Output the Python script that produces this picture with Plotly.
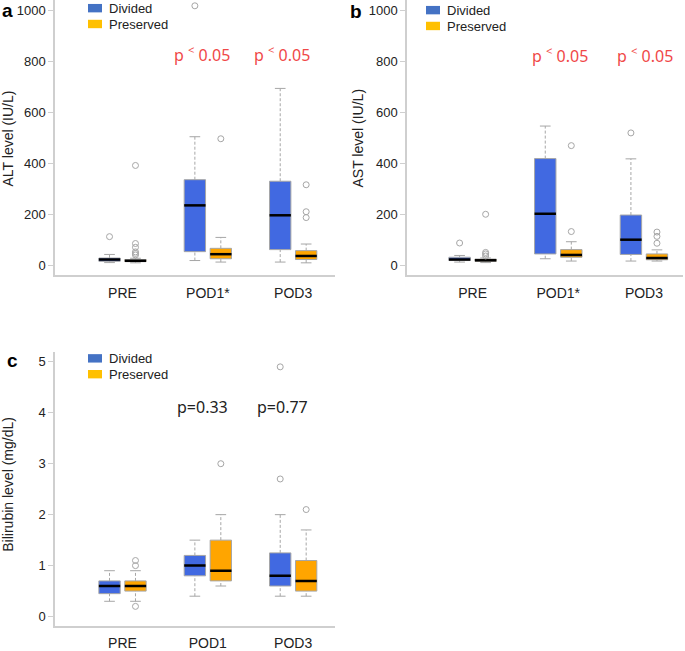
import plotly.graph_objects as go

W, H = 685, 651

groups_ab = ["PRE", "POD1*", "POD3"]
groups_c = ["PRE", "POD1", "POD3"]
series_names = ["Divided", "Preserved"]

# ---- ALT (IU/L): per group [PRE, POD1, POD3]
alt_div_low = [10, 18, 12]
alt_div_q1 = [15, 53, 61]
alt_div_med = [22, 235, 196]
alt_div_q3 = [28, 336, 330]
alt_div_high = [42, 505, 695]
alt_div_out = [[112], [1020], []]
alt_pre_low = [9, 12, 9]
alt_pre_q1 = [14, 25, 22]
alt_pre_med = [17, 43, 36]
alt_pre_q3 = [22, 66, 57]
alt_pre_high = [27, 109, 83]
alt_pre_out = [[392, 85, 70, 52, 46, 40], [497], [316, 210, 187]]

# ---- AST (IU/L)
ast_div_low = [12, 25, 16]
ast_div_q1 = [18, 44, 42]
ast_div_med = [22, 202, 100]
ast_div_q3 = [31, 419, 197]
ast_div_high = [38, 547, 418]
ast_div_out = [[87], [], [520]]
ast_pre_low = [10, 16, 16]
ast_pre_q1 = [15, 31, 21]
ast_pre_med = [19, 40, 28]
ast_pre_q3 = [24, 61, 44]
ast_pre_high = [28, 92, 60]
ast_pre_out = [[200, 50, 44, 36], [470, 132], [130, 113, 86]]

# ---- Bilirubin (mg/dL)
bil_div_low = [0.3, 0.4, 0.4]
bil_div_q1 = [0.45, 0.8, 0.6]
bil_div_med = [0.6, 1.0, 0.8]
bil_div_q3 = [0.7, 1.2, 1.25]
bil_div_high = [0.9, 1.5, 2.0]
bil_div_out = [[], [], [4.9, 2.7]]
bil_pre_low = [0.3, 0.6, 0.4]
bil_pre_q1 = [0.5, 0.7, 0.5]
bil_pre_med = [0.6, 0.9, 0.7]
bil_pre_q3 = [0.7, 1.5, 1.1]
bil_pre_high = [0.9, 2.0, 1.7]
bil_pre_out = [[1.1, 1.0, 0.2], [3.0], [2.1]]

p_ab = ["p <sup>&lt;</sup> 0.05", "p <sup>&lt;</sup> 0.05"]
p_c = ["p=0.33", "p=0.77"]

BLUE = "#4169E1"
ORANGE = "#FFA500"
LEG_BLUE = "#4472C4"
LEG_GOLD = "#FFC000"
GRAY = "#a6a6a6"
AXIS = "#cfcfcf"

OFF = 0.152
BW = 0.25


def px(x):
    return x / W


def py(y):
    return 1 - y / H


fig = go.Figure()


def add_boxes(xa, ya, low, q1, med, q3, high, outs, color, side):
    xs = [i + 1 + side * OFF for i in range(len(med))]
    bx, by = [], []
    for x, a, b in zip(xs, q1, q3):
        bx += [x - BW / 2, x + BW / 2, x + BW / 2, x - BW / 2, x - BW / 2, None]
        by += [a, a, b, b, a, None]
    wx, wy = [], []
    for x, lo, a, b, hi in zip(xs, low, q1, q3, high):
        wx += [x, x, None, x, x, None]
        wy += [lo, a, None, b, hi, None]
    fig.add_trace(go.Scatter(x=wx, y=wy, xaxis=xa, yaxis=ya, mode="lines",
                             line=dict(color=GRAY, width=1, dash="3px,2px"),
                             hoverinfo="skip", showlegend=False))
    cx, cy = [], []
    for x, lo, hi in zip(xs, low, high):
        cx += [x - BW / 4, x + BW / 4, None, x - BW / 4, x + BW / 4, None]
        cy += [lo, lo, None, hi, hi, None]
    fig.add_trace(go.Scatter(x=cx, y=cy, xaxis=xa, yaxis=ya, mode="lines",
                             line=dict(color=GRAY, width=1),
                             hoverinfo="skip", showlegend=False))
    fig.add_trace(go.Scatter(x=bx, y=by, xaxis=xa, yaxis=ya, mode="lines",
                             fill="toself", fillcolor=color,
                             line=dict(color=GRAY, width=1),
                             hoverinfo="skip", showlegend=False))
    mx, my = [], []
    for x, m in zip(xs, med):
        mx += [x - BW / 2, x + BW / 2, None]
        my += [m, m, None]
    fig.add_trace(go.Scatter(x=mx, y=my, xaxis=xa, yaxis=ya, mode="lines",
                             line=dict(color="black", width=2.5),
                             hoverinfo="skip", showlegend=False))
    ox, oy = [], []
    for x, o in zip(xs, outs):
        for v in o:
            ox.append(x)
            oy.append(v)
    fig.add_trace(go.Scatter(x=ox, y=oy, xaxis=xa, yaxis=ya, mode="markers",
                             marker=dict(symbol="circle-open", size=6,
                                         color=GRAY, line=dict(width=1)),
                             hoverinfo="skip", showlegend=False))


add_boxes("x", "y", alt_div_low, alt_div_q1, alt_div_med, alt_div_q3, alt_div_high, alt_div_out, BLUE, -1)
add_boxes("x", "y", alt_pre_low, alt_pre_q1, alt_pre_med, alt_pre_q3, alt_pre_high, alt_pre_out, ORANGE, 1)
add_boxes("x2", "y2", ast_div_low, ast_div_q1, ast_div_med, ast_div_q3, ast_div_high, ast_div_out, BLUE, -1)
add_boxes("x2", "y2", ast_pre_low, ast_pre_q1, ast_pre_med, ast_pre_q3, ast_pre_high, ast_pre_out, ORANGE, 1)
add_boxes("x3", "y3", bil_div_low, bil_div_q1, bil_div_med, bil_div_q3, bil_div_high, bil_div_out, BLUE, -1)
add_boxes("x3", "y3", bil_pre_low, bil_pre_q1, bil_pre_med, bil_pre_q3, bil_pre_high, bil_pre_out, ORANGE, 1)

tickfont = dict(family="Liberation Sans, Arial, sans-serif", size=13, color="#222")
xtickfont = dict(family="Liberation Sans, Arial, sans-serif", size=14, color="#222")


def xaxis(dom, rng, labels):
    return dict(domain=dom, range=rng, tickvals=[1, 2, 3], ticktext=labels,
                showline=True, linecolor=AXIS, linewidth=1.5, ticks="",
                showgrid=False, zeroline=False, tickfont=xtickfont,
                ticklabelstandoff=4, fixedrange=True)


def yaxis(dom, rng, tv, anchor):
    return dict(domain=dom, range=rng, tickvals=tv, anchor=anchor,
                showline=True, linecolor=AXIS, linewidth=1.5, ticks="outside",
                tickcolor=AXIS, ticklen=5, showgrid=False, zeroline=False,
                tickfont=tickfont, fixedrange=True)


ab_ticks = [0, 200, 400, 600, 800, 1000]
c_ticks = [0, 1, 2, 3, 4, 5]

fig.update_layout(
    width=W, height=H,
    margin=dict(l=0, r=0, t=0, b=0),
    paper_bgcolor="white", plot_bgcolor="white",
    showlegend=False,
    xaxis=dict(xaxis([px(55), px(335)], [0.209, 3.49], groups_ab), anchor="y"),
    yaxis=yaxis([py(278), 1], [-38.9, 1042.8], ab_ticks, "x"),
    xaxis2=dict(xaxis([px(407), px(683)], [0.234, 3.456], groups_ab), anchor="y2"),
    yaxis2=yaxis([py(278), 1], [-38.9, 1042.8], ab_ticks, "x2"),
    xaxis3=dict(xaxis([px(55), px(335)], [0.209, 3.49], groups_c), anchor="y3"),
    yaxis3=yaxis([py(632.3), py(355.7)], [-0.175, 5.194], c_ticks, "x3"),
)

ann = []
red = dict(family="Noto Sans, sans-serif", size=16, color="#f04848")
blk = dict(family="Noto Sans, sans-serif", size=16, color="#222")
C = dict(xanchor="center", yanchor="middle", showarrow=False)
for xv, t in zip([1.932, 2.87], p_ab):
    ann.append(dict(x=xv, y=829, xref="x", yref="y", text=t, font=red, **C))
for xv, t in zip([2.019, 3.01], p_ab):
    ann.append(dict(x=xv, y=825, xref="x2", yref="y2", text=t, font=red, **C))
for xv, t in zip([1.932, 2.87], p_c):
    ann.append(dict(x=xv, y=4.12, xref="x3", yref="y3", text=t, font=blk, **C))

for lx, ly, t in [(8, 11, "a"), (356, 12, "b"), (12, 364, "c")]:
    ann.append(dict(x=px(lx), y=py(ly), xref="paper", yref="paper", text="<b>" + t + "</b>",
                    font=dict(family="Liberation Sans, Arial", size=19, color="black"), **C))

tfont = dict(family="Liberation Sans, Arial, sans-serif", size=14, color="#222")
for tx, ty, t in [(8, 140, "ALT level (IU/L)"), (358, 140, "AST level (IU/L)"),
                  (8, 490, "Bilirubin level (mg/dL)")]:
    ann.append(dict(x=px(tx), y=py(ty), xref="paper", yref="paper", text=t, textangle=-90,
                    font=tfont, **C))

shapes = []
lfont = dict(family="Liberation Sans, Arial, sans-serif", size=13, color="#222")
for sx, sy in [(88, 4), (426, 6), (88, 358)]:
    for k, (name, col) in enumerate(zip(series_names, [LEG_BLUE, LEG_GOLD])):
        y0 = sy + k * 16
        shapes.append(dict(type="rect", xref="paper", yref="paper",
                           x0=px(sx), x1=px(sx + 14), y0=py(y0 + 8.5), y1=py(y0),
                           fillcolor=col, line=dict(width=0)))
        ann.append(dict(x=px(sx + 19), y=py(y0 + 4.5), xref="paper", yref="paper",
                        text=name, showarrow=False, xanchor="left", yanchor="middle",
                        font=lfont))

fig.update_layout(annotations=ann, shapes=shapes)
fig.write_html("out.html", config={"displayModeBar": False},
               post_script="document.body.style.margin='0';document.body.style.overflow='hidden';")
